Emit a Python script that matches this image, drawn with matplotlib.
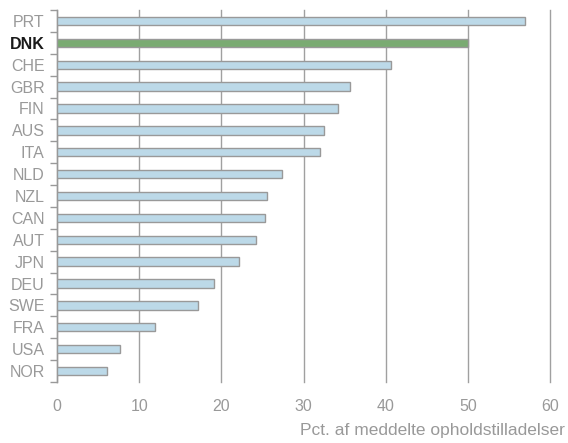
import numpy as np
import matplotlib.pyplot as plt

countries = ['PRT', 'DNK', 'CHE', 'GBR', 'FIN', 'AUS', 'ITA', 'NLD', 'NZL',
             'CAN', 'AUT', 'JPN', 'DEU', 'SWE', 'FRA', 'USA', 'NOR']
values = [57.0, 50.0, 40.6, 35.6, 34.2, 32.5, 32.0, 27.4, 25.5,
          25.3, 24.2, 22.1, 19.1, 17.2, 11.9, 7.7, 6.1]
xticks = [0, 10, 20, 30, 40, 50, 60]
highlight = 'DNK'

plt.rcParams['font.family'] = ['Liberation Sans', 'DejaVu Sans']
grey = '#999999'

fig = plt.figure(figsize=(5.68, 4.43), dpi=100)
ax = fig.add_axes([0.1004, 0.1377, 0.8680, 0.8397])

y = np.arange(len(countries))
colors = ['#7aab72' if c == highlight else '#bcd9e8' for c in countries]
ax.barh(y, values, height=0.38, color=colors, edgecolor=grey, linewidth=1, zorder=3)

ax.set_ylim(len(countries) - 0.5, -0.5)
ax.set_xlim(0, 60)
ax.set_xticks(xticks)
ax.set_xticklabels([str(t) for t in xticks])
# vertical grid lines, drawn unclipped so the one at 60 stays visible
for t in xticks:
    ax.axvline(t, color='#a0a0a0', linewidth=1, zorder=0, clip_on=False)
ax.tick_params(axis='x', length=0, pad=12, labelsize=11.5, labelcolor=grey)

ax.set_yticks(y)
ax.set_yticklabels(countries)
ax.set_yticks(np.arange(len(countries) + 1) - 0.5, minor=True)
ax.tick_params(axis='y', which='major', length=0, pad=9, labelsize=11.5, labelcolor=grey)
ax.tick_params(axis='y', which='minor', length=5, color=grey, width=1)
for lab in ax.get_yticklabels():
    if lab.get_text() == highlight:
        lab.set_color('#1a1a1a')
        lab.set_fontweight('bold')

for s in ['top', 'right', 'bottom']:
    ax.spines[s].set_visible(False)
ax.spines['left'].set_color(grey)
ax.spines['left'].set_linewidth(1)

fig.text(0.995, 0.012, 'Pct. af meddelte opholdstilladelser', ha='right', va='bottom',
         fontsize=12.5, color=grey)

fig.savefig('out.png', dpi=100)
